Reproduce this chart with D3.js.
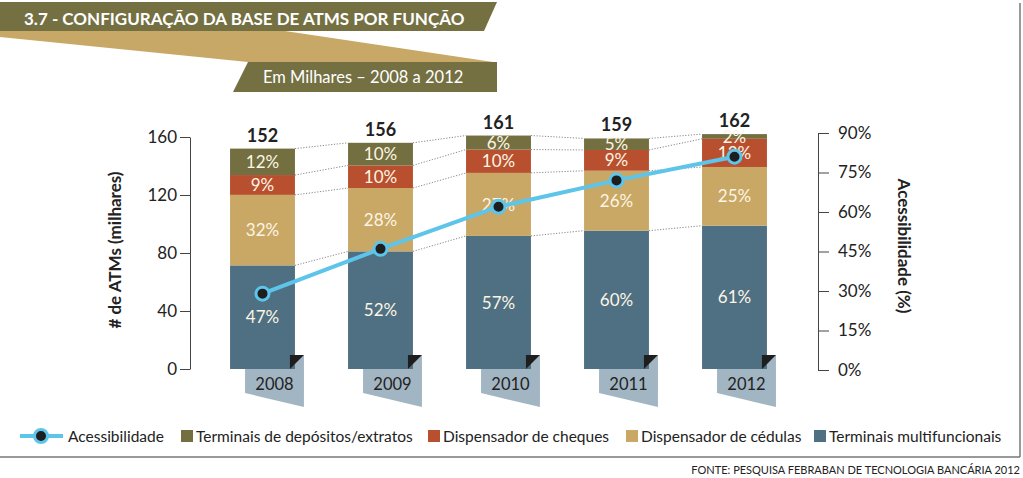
<!DOCTYPE html>
<html><head><meta charset="utf-8">
<script src="https://cdn.jsdelivr.net/npm/d3@7"></script>
<style>
html,body{margin:0;padding:0;background:#fff;}
svg{display:block;font-family:Lato,"Open Sans",sans-serif;}
</style></head>
<body>
<svg id="chart" width="1023" height="478"></svg>
<script>
// ---- data ----
const years = ["2008", "2009", "2010", "2011", "2012"];
const totals = [152, 156, 161, 159, 162];
const pctMultifuncionais = [47, 52, 57, 60, 61];
const pctCedulas = [32, 28, 27, 26, 25];
const pctCheques = [9, 10, 10, 9, 12];
const pctDepositos = [12, 10, 6, 5, 2];
const acessibilidade = [29, 46, 62, 72, 81];
const leftTicks = [0, 40, 80, 120, 160];
const rightTicks = [0, 15, 30, 45, 60, 75, 90];
const seriesNames = ["Terminais multifuncionais", "Dispensador de cédulas", "Dispensador de cheques", "Terminais de depósitos/extratos"];
const lineName = "Acessibilidade";
const title = "3.7 - CONFIGURAÇÃO DA BASE DE ATMS POR FUNÇÃO";
const subtitle = "Em Milhares – 2008 a 2012";
const leftLabel = "# de ATMs (milhares)";
const rightLabel = "Acessibilidade (%)";
const source = "FONTE: PESQUISA FEBRABAN DE TECNOLOGIA BANCÁRIA 2012";

// ---- styles ----
const colors = ["#4f7083", "#c9a865", "#b8502f", "#736f40"];
const olive = "#747042", tanBand = "#c8a866";
const lineColor = "#5dc4ea";
const textDark = "#222";

const series = [pctMultifuncionais, pctCedulas, pctCheques, pctDepositos].map((p, i) => ({
  name: seriesNames[i], pct: p, color: colors[i]
}));

const svg = d3.select("#chart");

// ---- header ----
svg.append("polygon").attr("points", "0,31 285,31 493,62 248,62 0,37").attr("fill", tanBand);
svg.append("polygon").attr("points", "0,2 497,2 484,31 0,31").attr("fill", olive);
svg.append("polygon").attr("points", "248,62 497,62 497,92 233,92").attr("fill", olive);
svg.append("text").attr("x", 24).attr("y", 25).attr("fill", "#fff")
  .attr("font-size", 17).attr("font-weight", "bold").text(title);
svg.append("text").attr("x", 263).attr("y", 83).attr("fill", "#fff")
  .attr("font-size", 16.5).text(subtitle);

// frame lines
svg.append("line").attr("x1", 1020).attr("x2", 1020).attr("y1", 3).attr("y2", 457)
  .attr("stroke", "#777").attr("stroke-width", 1.5);
svg.append("line").attr("x1", 0).attr("x2", 1020).attr("y1", 457).attr("y2", 457)
  .attr("stroke", "#777").attr("stroke-width", 1.5);

// ---- scales ----
const x = d3.scaleBand().domain(years).range([203.5, 793.5]).paddingInner(0.45).paddingOuter(0.225);
const y = d3.scaleLinear().domain([0, 160]).range([369, 137]);
const yR = d3.scaleLinear().domain([0, 90]).range([370, 133]);
const bw = x.bandwidth();

// stacked values
const stacks = years.map((yr, i) => {
  let cum = 0;
  return series.map(s => {
    const v = totals[i] * s.pct[i] / 100;
    const seg = { year: yr, y0: cum, y1: cum + v, pct: s.pct[i], color: s.color };
    cum += v;
    return seg;
  });
});

// ---- axes ----
const axL = svg.append("g").attr("transform", "translate(190,0)")
  .call(d3.axisLeft(y).tickValues(leftTicks).tickSize(10).tickSizeOuter(0).tickPadding(3));
const axR = svg.append("g").attr("transform", "translate(818,0)")
  .call(d3.axisRight(yR).tickValues(rightTicks).tickSize(11).tickSizeOuter(0).tickPadding(9).tickFormat(d => d + "%"));
[axL, axR].forEach(a => {
  a.select(".domain").attr("stroke", "#444");
  a.selectAll(".tick line").attr("stroke", "#444");
  a.selectAll(".tick text").attr("fill", textDark).attr("font-size", 17).attr("font-family", "Lato,sans-serif");
});

svg.append("text").attr("transform", "translate(121,250) rotate(-90)")
  .attr("text-anchor", "middle").attr("font-size", 17).attr("font-weight", "bold")
  .attr("fill", textDark).text(leftLabel);
svg.append("text").attr("transform", "translate(898,246) rotate(90)")
  .attr("text-anchor", "middle").attr("font-size", 17).attr("font-weight", "bold")
  .attr("fill", textDark).text(rightLabel);

// ---- dotted connectors ----
const conn = svg.append("g");
for (let i = 0; i < years.length - 1; i++) {
  for (let k = 0; k < series.length; k++) {
    conn.append("line")
      .attr("x1", x(years[i]) + bw).attr("y1", y(stacks[i][k].y1))
      .attr("x2", x(years[i + 1])).attr("y2", y(stacks[i + 1][k].y1))
      .attr("stroke", "#888").attr("stroke-width", 1).attr("stroke-dasharray", "1.2,1.6");
  }
}

// ---- year tabs ----
const yb = y(0);
svg.append("g").selectAll("polygon").data(years).join("polygon")
  .attr("points", d => {
    const xl = x(d), xr = x(d) + bw;
    return [[xl + 15, yb - 14], [xr + 9, yb - 14], [xr + 9, yb + 38], [xl + 15, yb + 24]].join(" ");
  })
  .attr("fill", "#a2b5c2");

// ---- bars ----
const barG = svg.append("g");
stacks.forEach(st => {
  barG.selectAll(null).data(st).join("rect")
    .attr("x", d => x(d.year)).attr("width", bw)
    .attr("y", d => y(d.y1)).attr("height", d => y(d.y0) - y(d.y1))
    .attr("fill", d => d.color);
});

// fold triangles
svg.append("g").selectAll("polygon").data(years).join("polygon")
  .attr("points", d => {
    const xr = x(d) + bw;
    return [[xr - 5, yb - 14], [xr + 9, yb - 14], [xr - 5, yb]].join(" ");
  })
  .attr("fill", "#1e1e1e");

// year labels
svg.append("g").selectAll("text").data(years).join("text")
  .attr("x", d => x(d) + bw / 2 + 12).attr("y", yb + 21)
  .attr("text-anchor", "middle").attr("font-size", 16.5).attr("fill", textDark).text(d => d);

// segment labels
stacks.forEach(st => {
  barG.selectAll(null).data(st).join("text")
    .attr("x", d => x(d.year) + bw / 2)
    .attr("y", d => (y(d.y0) + y(d.y1)) / 2)
    .attr("dy", "0.36em")
    .attr("text-anchor", "middle").attr("font-size", 17).attr("fill", "#fdf5e4")
    .text(d => d.pct + "%");
});

// totals
svg.append("g").selectAll("text").data(years).join("text")
  .attr("x", d => x(d) + bw / 2).attr("y", (d, i) => y(totals[i]) - 7)
  .attr("text-anchor", "middle").attr("font-size", 18).attr("font-weight", "bold")
  .attr("fill", textDark).text((d, i) => totals[i]);

// ---- accessibility line ----
const pts = years.map((d, i) => [x(d) + bw / 2, yR(acessibilidade[i])]);
svg.append("path").attr("d", d3.line()(pts)).attr("fill", "none")
  .attr("stroke", lineColor).attr("stroke-width", 4);
svg.append("g").selectAll("circle").data(pts).join("circle")
  .attr("cx", d => d[0]).attr("cy", d => d[1]).attr("r", 6.5)
  .attr("fill", "#1e1e1e").attr("stroke", lineColor).attr("stroke-width", 3);

// ---- legend ----
const lg = svg.append("g");
const ly = 436;
lg.append("line").attr("x1", 20).attr("x2", 63).attr("y1", ly).attr("y2", ly)
  .attr("stroke", lineColor).attr("stroke-width", 4);
lg.append("circle").attr("cx", 41).attr("cy", ly).attr("r", 6.5)
  .attr("fill", "#1e1e1e").attr("stroke", lineColor).attr("stroke-width", 3);
lg.append("text").attr("x", 68).attr("y", ly + 5.5).attr("font-size", 15.5).attr("fill", textDark).text(lineName);
const legendSquares = [181, 428, 626, 814];
const legendOrder = [3, 2, 1, 0];
legendOrder.forEach((si, j) => {
  const sx = legendSquares[j];
  lg.append("rect").attr("x", sx).attr("y", ly - 6).attr("width", 12).attr("height", 12).attr("fill", series[si].color);
  lg.append("text").attr("x", sx + 15).attr("y", ly + 5.5).attr("font-size", 15.5).attr("fill", textDark).text(series[si].name);
});

// source
svg.append("text").attr("x", 1020).attr("y", 474).attr("text-anchor", "end")
  .attr("font-size", 11).attr("fill", textDark).text(source);
</script>
</body></html>
